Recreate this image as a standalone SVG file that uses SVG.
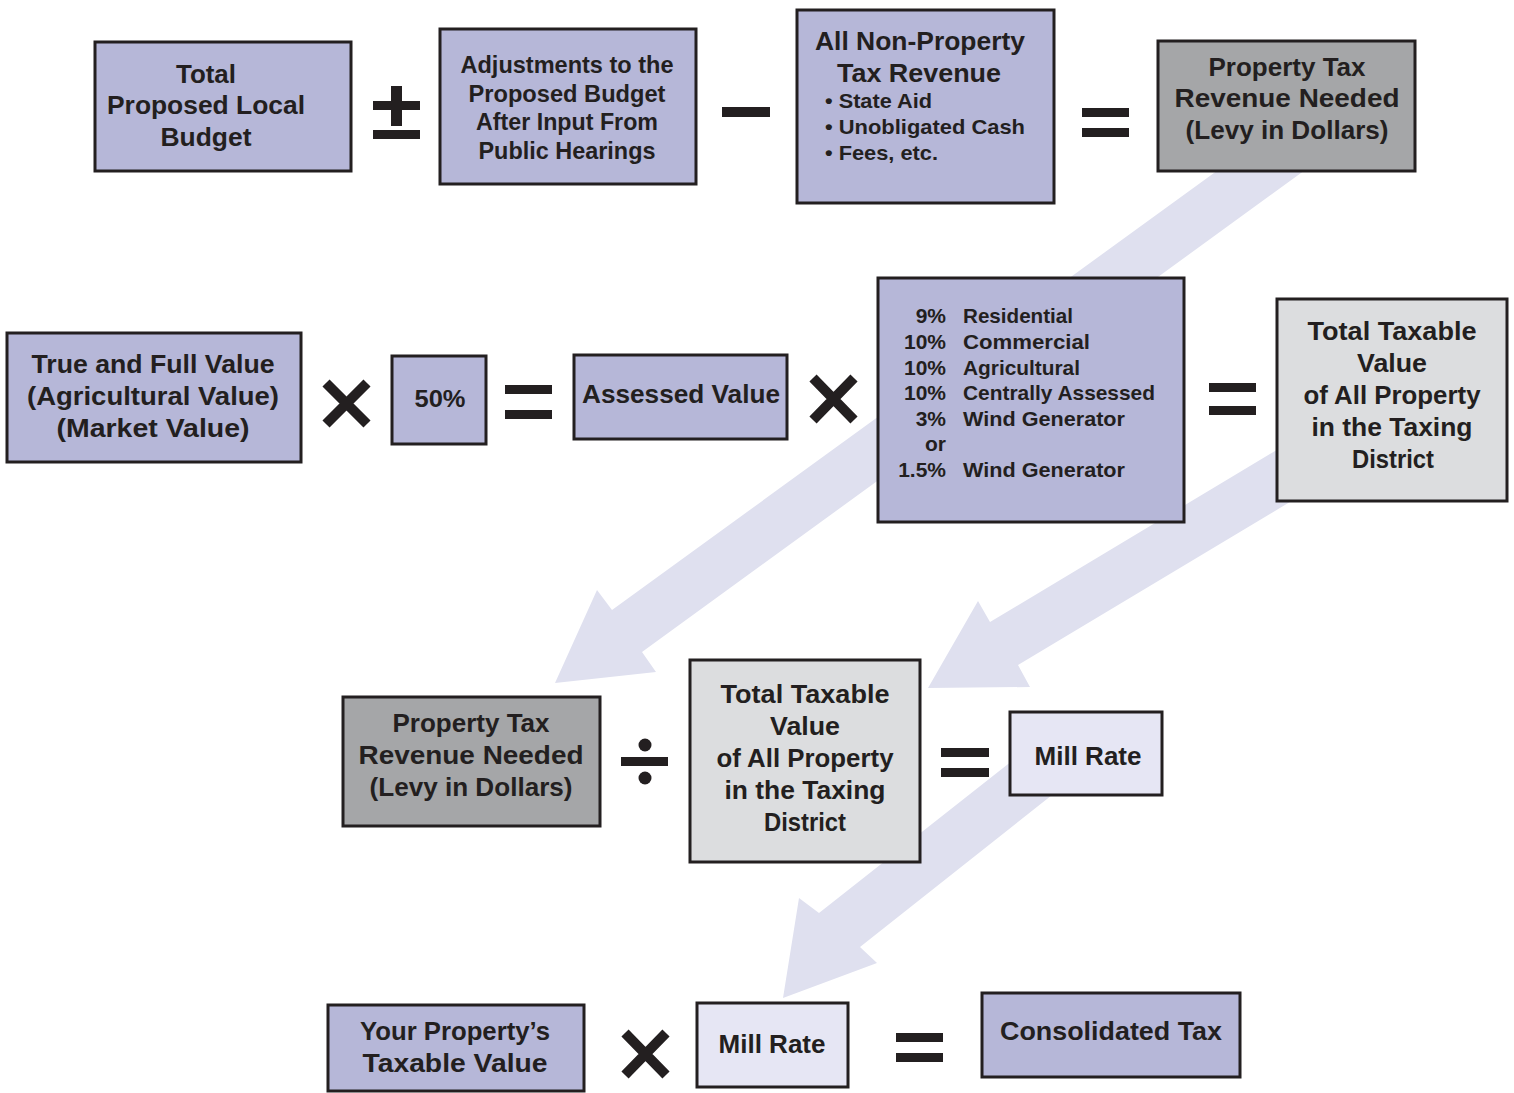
<svg xmlns="http://www.w3.org/2000/svg" width="1514" height="1093" viewBox="0 0 1514 1093">
<style>
  .box { stroke: #231f20; stroke-width: 3; }
  .purple { fill: #b6b7d8; }
  .dark { fill: #a5a6a8; }
  .light { fill: #dcdddf; }
  .pale { fill: #e6e6f4; }
  .t { font-family: "Liberation Sans", Arial, sans-serif; font-weight: bold; fill: #231f20; font-size: 26px; text-anchor: middle; }
  .s { font-size: 21px; }
  .m { font-size: 24px; }
  .l { text-anchor: start; }
  .r { text-anchor: end; }
  .arrow { fill: #dfe0ef; }
  .op { fill: #231f20; }
  .x { stroke: #231f20; stroke-width: 10; fill: none; }
</style>
<rect width="1514" height="1093" fill="#ffffff"/>

<g id="connectors">
  <polygon class="arrow" points="1225,165 1312,165 642,652 656,672 555,683 597,590 612,610"/>
  <polygon class="arrow" points="1400,376 1400,436 1018,665 1030,687 928,688 978,601 990,622"/>
  <polygon class="arrow" points="1050,731 1090,765 860,947 877,963 783,998 799,898 819,913"/>
</g>

<g id="operators">
  <!-- plus-minus -->
  <rect class="op" x="391" y="86" width="11" height="40"/>
  <rect class="op" x="373" y="101" width="47" height="9"/>
  <rect class="op" x="373" y="130" width="47" height="9"/>
  <!-- minus -->
  <rect class="op" x="722" y="107" width="48" height="10"/>
  <!-- equals row 1 -->
  <rect class="op" x="1082" y="108" width="47" height="9"/>
  <rect class="op" x="1082" y="128" width="47" height="9"/>
  <!-- times row 2 -->
  <path class="x" d="M326,383 L367,424 M367,383 L326,424"/>
  <rect class="op" x="505" y="385" width="47" height="9"/>
  <rect class="op" x="505" y="410" width="47" height="9"/>
  <path class="x" d="M813,378 L854,420 M854,378 L813,420"/>
  <rect class="op" x="1209" y="383" width="47" height="9"/>
  <rect class="op" x="1209" y="406" width="47" height="9"/>
  <!-- divide -->
  <rect class="op" x="621" y="757" width="47" height="9"/>
  <circle class="op" cx="645" cy="745" r="6.5"/>
  <circle class="op" cx="645" cy="778" r="6.5"/>
  <rect class="op" x="941" y="748" width="48" height="9"/>
  <rect class="op" x="941" y="768" width="48" height="9"/>
  <!-- row 4 -->
  <path class="x" d="M625,1033 L666,1075 M666,1033 L625,1075"/>
  <rect class="op" x="896" y="1033" width="47" height="9"/>
  <rect class="op" x="896" y="1053" width="47" height="9"/>
</g>

<g id="node-total-budget">
  <rect class="box purple" x="95" y="42" width="256" height="129"/>
  <text class="t" x="206" y="83" textLength="60" lengthAdjust="spacingAndGlyphs">Total</text>
  <text class="t" x="206" y="114" textLength="198" lengthAdjust="spacingAndGlyphs">Proposed Local</text>
  <text class="t" x="206" y="146" textLength="91" lengthAdjust="spacingAndGlyphs">Budget</text>
</g>

<g id="node-adjustments">
  <rect class="box purple" x="440" y="29" width="256" height="155"/>
  <text class="t m" x="567" y="73" textLength="213" lengthAdjust="spacingAndGlyphs">Adjustments to the</text>
  <text class="t m" x="567" y="102" textLength="197" lengthAdjust="spacingAndGlyphs">Proposed Budget</text>
  <text class="t m" x="567" y="130" textLength="182" lengthAdjust="spacingAndGlyphs">After Input From</text>
  <text class="t m" x="567" y="159" textLength="177" lengthAdjust="spacingAndGlyphs">Public Hearings</text>
</g>

<g id="node-non-property">
  <rect class="box purple" x="797" y="10" width="257" height="193"/>
  <text class="t" x="920" y="50" textLength="210" lengthAdjust="spacingAndGlyphs">All Non-Property</text>
  <text class="t" x="919" y="82" textLength="164" lengthAdjust="spacingAndGlyphs">Tax Revenue</text>
  <text class="t s l" x="825" y="108" textLength="107" lengthAdjust="spacingAndGlyphs">• State Aid</text>
  <text class="t s l" x="825" y="134" textLength="200" lengthAdjust="spacingAndGlyphs">• Unobligated Cash</text>
  <text class="t s l" x="825" y="160" textLength="113" lengthAdjust="spacingAndGlyphs">• Fees, etc.</text>
</g>

<g id="node-levy-top">
  <rect class="box dark" x="1158" y="41" width="257" height="130"/>
  <text class="t" x="1287" y="76" textLength="157" lengthAdjust="spacingAndGlyphs">Property Tax</text>
  <text class="t" x="1287" y="107" textLength="225" lengthAdjust="spacingAndGlyphs">Revenue Needed</text>
  <text class="t" x="1287" y="139" textLength="203" lengthAdjust="spacingAndGlyphs">(Levy in Dollars)</text>
</g>

<g id="node-true-full-value">
  <rect class="box purple" x="7" y="333" width="294" height="129"/>
  <text class="t" x="153" y="373" textLength="243" lengthAdjust="spacingAndGlyphs">True and Full Value</text>
  <text class="t" x="153" y="405" textLength="252" lengthAdjust="spacingAndGlyphs">(Agricultural Value)</text>
  <text class="t" x="153" y="437" textLength="193" lengthAdjust="spacingAndGlyphs">(Market Value)</text>
</g>

<g id="node-fifty">
  <rect class="box purple" x="392" y="356" width="94" height="88"/>
  <text class="t m" x="440" y="407" textLength="51" lengthAdjust="spacingAndGlyphs">50%</text>
</g>

<g id="node-assessed">
  <rect class="box purple" x="574" y="355" width="213" height="84"/>
  <text class="t" x="681" y="403" textLength="198" lengthAdjust="spacingAndGlyphs">Assessed Value</text>
</g>

<g id="node-rates">
  <rect class="box purple" x="878" y="278" width="306" height="244"/>
  <text class="t s r" x="946" y="323">9%</text>
  <text class="t s l" x="963" y="323" textLength="110" lengthAdjust="spacingAndGlyphs">Residential</text>
  <text class="t s r" x="946" y="349">10%</text>
  <text class="t s l" x="963" y="349" textLength="127" lengthAdjust="spacingAndGlyphs">Commercial</text>
  <text class="t s r" x="946" y="375">10%</text>
  <text class="t s l" x="963" y="375" textLength="117" lengthAdjust="spacingAndGlyphs">Agricultural</text>
  <text class="t s r" x="946" y="400">10%</text>
  <text class="t s l" x="963" y="400" textLength="192" lengthAdjust="spacingAndGlyphs">Centrally Assessed</text>
  <text class="t s r" x="946" y="426">3%</text>
  <text class="t s l" x="963" y="426" textLength="162" lengthAdjust="spacingAndGlyphs">Wind Generator</text>
  <text class="t s r" x="946" y="451">or</text>
  <text class="t s r" x="946" y="477">1.5%</text>
  <text class="t s l" x="963" y="477" textLength="162" lengthAdjust="spacingAndGlyphs">Wind Generator</text>
</g>

<g id="node-taxable-right">
  <rect class="box light" x="1277" y="299" width="230" height="202"/>
  <text class="t" x="1392" y="340" textLength="169" lengthAdjust="spacingAndGlyphs">Total Taxable</text>
  <text class="t" x="1392" y="372" textLength="70" lengthAdjust="spacingAndGlyphs">Value</text>
  <text class="t" x="1392" y="404" textLength="177" lengthAdjust="spacingAndGlyphs">of All Property</text>
  <text class="t" x="1392" y="436" textLength="161" lengthAdjust="spacingAndGlyphs">in the Taxing</text>
  <text class="t" x="1393" y="468" textLength="82" lengthAdjust="spacingAndGlyphs">District</text>
</g>

<g id="node-levy-mid">
  <rect class="box dark" x="343" y="697" width="257" height="129"/>
  <text class="t" x="471" y="732" textLength="157" lengthAdjust="spacingAndGlyphs">Property Tax</text>
  <text class="t" x="471" y="764" textLength="225" lengthAdjust="spacingAndGlyphs">Revenue Needed</text>
  <text class="t" x="471" y="796" textLength="203" lengthAdjust="spacingAndGlyphs">(Levy in Dollars)</text>
</g>

<g id="node-taxable-mid">
  <rect class="box light" x="690" y="660" width="230" height="202"/>
  <text class="t" x="805" y="703" textLength="169" lengthAdjust="spacingAndGlyphs">Total Taxable</text>
  <text class="t" x="805" y="735" textLength="70" lengthAdjust="spacingAndGlyphs">Value</text>
  <text class="t" x="805" y="767" textLength="177" lengthAdjust="spacingAndGlyphs">of All Property</text>
  <text class="t" x="805" y="799" textLength="161" lengthAdjust="spacingAndGlyphs">in the Taxing</text>
  <text class="t" x="805" y="831" textLength="82" lengthAdjust="spacingAndGlyphs">District</text>
</g>

<g id="node-mill-rate-mid">
  <rect class="box pale" x="1010" y="712" width="152" height="83"/>
  <text class="t" x="1088" y="765" textLength="107" lengthAdjust="spacingAndGlyphs">Mill Rate</text>
</g>

<g id="node-your-property">
  <rect class="box purple" x="328" y="1005" width="256" height="86"/>
  <text class="t" x="455" y="1040" textLength="190" lengthAdjust="spacingAndGlyphs">Your Property’s</text>
  <text class="t" x="455" y="1072" textLength="185" lengthAdjust="spacingAndGlyphs">Taxable Value</text>
</g>

<g id="node-mill-rate-bottom">
  <rect class="box pale" x="697" y="1003" width="151" height="84"/>
  <text class="t" x="772" y="1053" textLength="107" lengthAdjust="spacingAndGlyphs">Mill Rate</text>
</g>

<g id="node-consolidated">
  <rect class="box purple" x="982" y="993" width="258" height="84"/>
  <text class="t" x="1111" y="1040" textLength="222" lengthAdjust="spacingAndGlyphs">Consolidated Tax</text>
</g>
</svg>
